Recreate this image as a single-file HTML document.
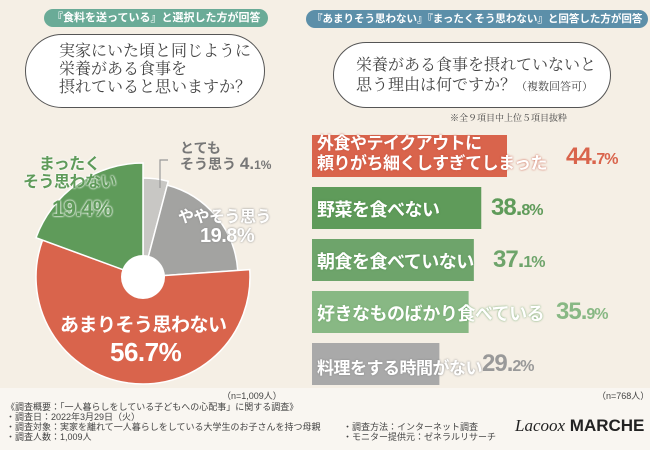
<!DOCTYPE html>
<html><head><meta charset="utf-8">
<style>
body{margin:0;width:650px;height:450px;overflow:hidden;background:#f5efe5;font-family:"Liberation Sans","Noto Sans CJK JP",sans-serif;position:relative}
.abs{position:absolute}
.banner{position:absolute;color:#fff;font-size:11px;font-weight:bold;border-radius:9px;padding:1px 8px;height:16px;line-height:16px;white-space:nowrap}
.bubble{position:absolute;background:#fff;border:1.5px solid #555;border-radius:40px;font-family:"Noto Serif CJK SC","Liberation Serif",serif;color:#444;font-size:16px;line-height:18px;white-space:nowrap}
.blab{position:absolute;color:#fff;font-weight:bold;font-size:18px;white-space:nowrap;letter-spacing:-0.5px}
.pct{position:absolute;font-weight:bold;font-size:24px;white-space:nowrap;letter-spacing:-1px}
.pct small{font-size:16px}
.foot{position:absolute;font-size:9px;color:#444;white-space:nowrap}
</style></head><body>
<div class="abs" style="left:0;top:388px;width:650px;height:62px;background:#f9f6f1"></div>
<div class="banner" style="left:44px;top:9px;background:#6aab97">『食料を送っている』と選択した方が回答</div>
<div class="banner" style="left:306px;top:10px;background:#5c8fa9;font-size:10.5px;padding:1px 6px">『あまりそう思わない』『まったくそう思わない』と回答した方が回答</div>
<div class="bubble" style="left:25px;top:34px;width:238px;height:72px"><div style="padding:6px 0 0 33px">実家にいた頃と同じように<br>栄養がある食事を<br>摂れていると思いますか？</div></div>
<div class="bubble" style="left:333px;top:42px;width:276px;height:64px;font-size:16px;line-height:20px"><div style="padding:11px 0 0 22px">栄養がある食事を摂れていないと<br>思う理由は何ですか？<span style="font-size:11px">（複数回答可）</span></div></div>
<div class="foot" style="left:450px;top:111px;font-family:'Noto Serif CJK SC',serif">※全９項目中上位５項目抜粋</div>

<svg class="abs" style="left:0;top:0" width="650" height="450">
<g id="pie"></g><g id="bars"></g>
<polyline points="160,188 160,160 168,160" fill="none" stroke="#999" stroke-width="1.2"/>
</svg>

<div class="abs" style="left:180px;top:140px;color:#777;font-size:14px;line-height:16px;font-weight:bold;white-space:nowrap">とても<br>そう思う <span style="font-size:17px">4.<small style="font-size:12px">1%</small></span></div>
<div class="blab" style="left:178px;top:203px;font-size:16px;text-shadow:0 0 2px #888">ややそう思う</div>
<div class="blab" style="left:200px;top:225px;font-size:20px;text-shadow:0 0 2px #888">19.8%</div>
<div class="blab" style="left:23px;top:156px;color:#5f9b5a;text-shadow:0 0 2px #fff,0 0 2px #fff;font-size:16px;line-height:18px;text-align:center">まったく<br>そう思わない</div>
<div class="blab" style="left:52px;top:196px;color:#5f9b5a;text-shadow:0 0 2px #fff,0 0 2px #fff;font-size:22px">19.4%</div>
<div class="blab" style="left:60px;top:310px;font-size:19px">あまりそう思わない</div>
<div class="blab" style="left:110px;top:337px;font-size:26px">56.7%</div>

<div class="blab" style="left:317px;top:134px;line-height:20px;font-size:17px;text-shadow:0 0 2px #c85540">外食やテイクアウトに<br>頼りがち細くしすぎてしまった</div>
<div class="pct" style="left:566px;top:143px;color:#d9644c">44.<small>7%</small></div>
<div class="blab" style="left:317px;top:196px;text-shadow:0 0 2px #4f8a4a">野菜を食べない</div>
<div class="pct" style="left:491px;top:194px;color:#5f9b5a">38.<small>8%</small></div>
<div class="blab" style="left:317px;top:248px;text-shadow:0 0 2px #5a9457">朝食を食べていない</div>
<div class="pct" style="left:493px;top:246px;color:#6ea46b">37.<small>1%</small></div>
<div class="blab" style="left:317px;top:300px;text-shadow:0 0 2px #6fa66b">好きなものばかり食べている</div>
<div class="pct" style="left:556px;top:298px;color:#88b884">35.<small>9%</small></div>
<div class="blab" style="left:317px;top:354px;font-size:17px;text-shadow:0 0 2px #888">料理をする時間がない</div>
<div class="pct" style="left:482px;top:350px;color:#999">29.<small>2%</small></div>

<div class="foot" style="left:222px;top:389px">（n=1,009人）</div>
<div class="foot" style="left:597px;top:389px">（n=768人）</div>
<div class="foot" style="left:6px;top:402px;line-height:10px">《調査概要：「一人暮らしをしている子どもへの心配事」に関する調査》<br>・調査日：2022年3月29日（火）<br>・調査対象：実家を離れて一人暮らしをしている大学生のお子さんを持つ母親<br>・調査人数：1,009人</div>
<div class="foot" style="left:343px;top:422px;line-height:10px">・調査方法：インターネット調査<br>・モニター提供元：ゼネラルリサーチ</div>
<div class="abs" style="left:515px;top:416px;font-size:17px;color:#222;white-space:nowrap"><i style="font-family:'Liberation Serif',serif">Lacoox</i> <b>MARCHE</b></div>

<script>
const pieLabels=["とてもそう思う","ややそう思う","あまりそう思わない","まったくそう思わない"];
const pieValues=[4.1,19.8,56.7,19.4];
const pieColors=["#c8c7c4","#a3a3a1","#d9644c","#5f9b5a"];
const pieRadii=[99,95,107,114];
const barLabels=["外食やテイクアウトに頼りがち","野菜を食べない","朝食を食べていない","好きなものばかり食べている","料理をする時間がない"];
const barValues=[44.7,38.8,37.1,35.9,29.2];
const barColors=["#d9644c","#5f9b5a","#6ea46b","#88b884","#a9a9a9"];
const NS="http://www.w3.org/2000/svg";
const cx=143,cy=277;
const pie=document.getElementById('pie');
let total=pieValues.reduce((a,b)=>a+b,0),acc=0;
function pt(a,r){return [cx+r*Math.sin(a),cy-r*Math.cos(a)];}
pieValues.forEach((v,i)=>{
  const a0=acc/total*2*Math.PI;acc+=v;const a1=acc/total*2*Math.PI;
  const r=pieRadii[i];const p0=pt(a0,r),p1=pt(a1,r);
  const large=(a1-a0)>Math.PI?1:0;
  const p=document.createElementNS(NS,'path');
  p.setAttribute('d',`M${cx},${cy}L${p0[0]},${p0[1]}A${r},${r} 0 ${large} 1 ${p1[0]},${p1[1]}Z`);
  p.setAttribute('fill',pieColors[i]);p.setAttribute('stroke','#fff');p.setAttribute('stroke-width','1.5');
  
  
  pie.appendChild(p);
});
const hole=document.createElementNS(NS,'circle');
hole.setAttribute('cx',cx);hole.setAttribute('cy',cy);hole.setAttribute('r',22);hole.setAttribute('fill','#fff');


pie.appendChild(hole);
const bars=document.getElementById('bars');
const x0=312,pxPer=195/44.7;
const y=i=>135+i*52;
barValues.forEach((v,i)=>{
  const r=document.createElementNS(NS,'rect');
  r.setAttribute('x',x0);r.setAttribute('y',y(i));r.setAttribute('width',v*pxPer);r.setAttribute('height',42);
  r.setAttribute('fill',barColors[i]);
  
  
  bars.appendChild(r);
});
</script>
</body></html>
